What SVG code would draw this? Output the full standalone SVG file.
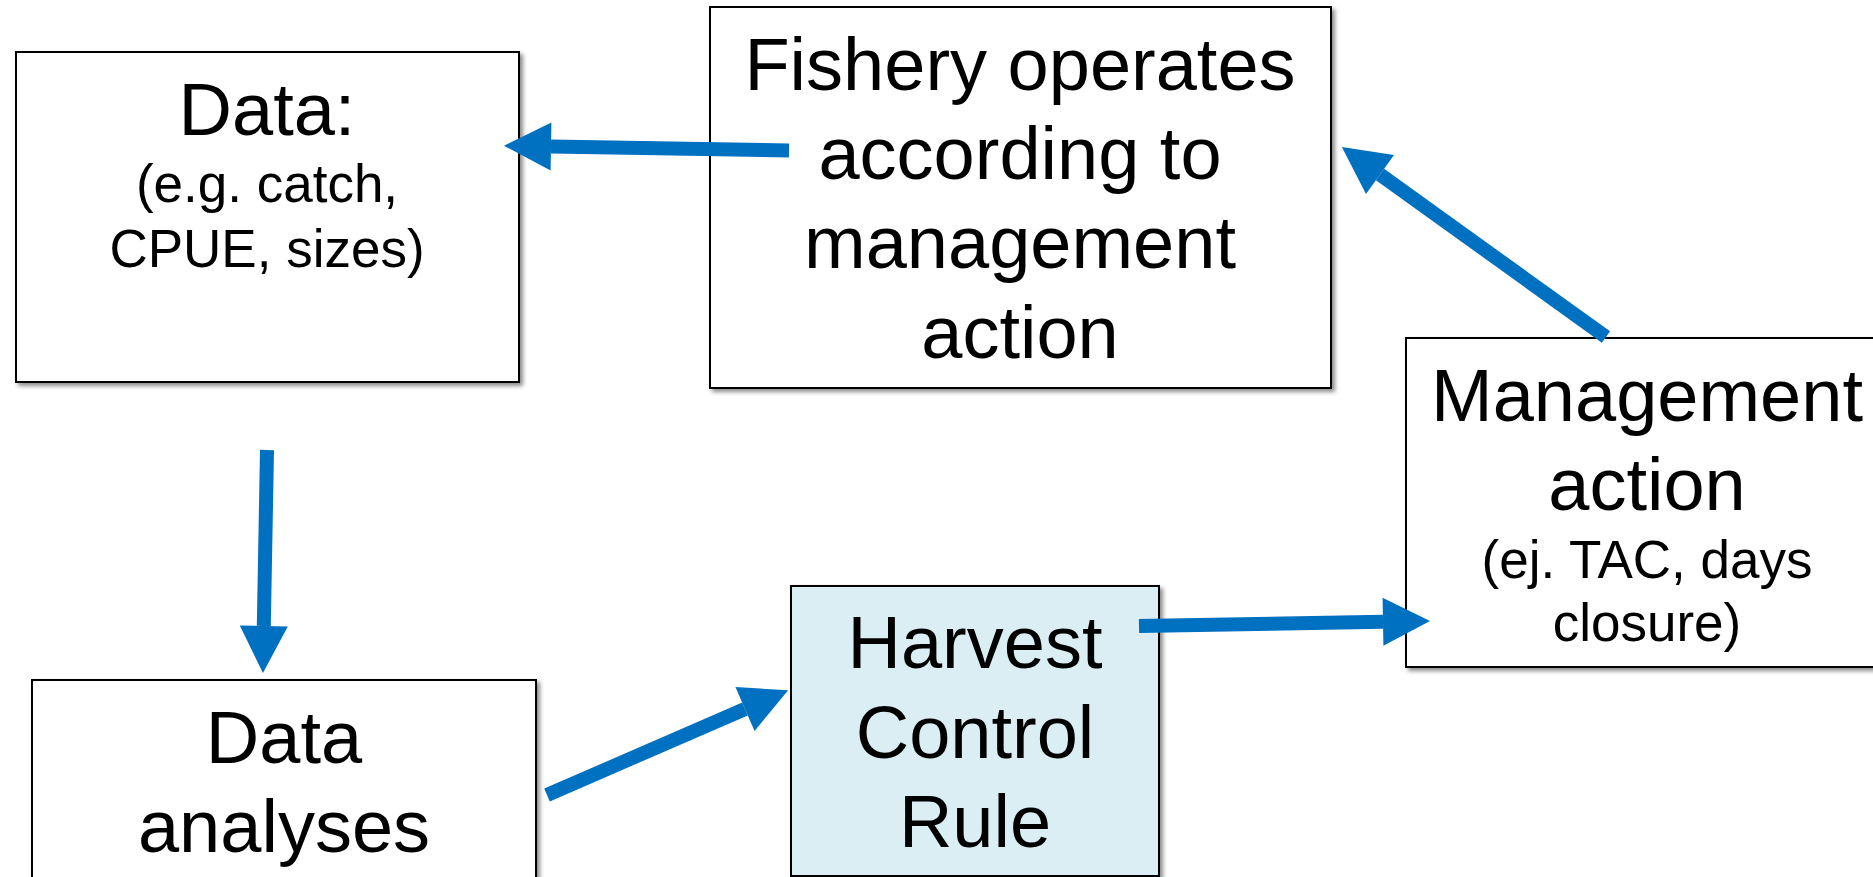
<svg xmlns="http://www.w3.org/2000/svg" width="1873" height="877" viewBox="0 0 1873 877">
<style>
.box{fill:#ffffff;stroke:#000000;stroke-width:2;filter:url(#sh)}
.hcr{fill:#DAEEF3}
.big{font-family:"Liberation Sans",Arial,sans-serif;font-size:74px;fill:#000;text-anchor:middle}
.small{font-family:"Liberation Sans",Arial,sans-serif;font-size:53px;fill:#000;text-anchor:middle}
.arr{stroke:#0070C0;stroke-width:14;fill:none;marker-end:url(#ah)}
</style>
<defs>
<filter id="sh" x="-5%" y="-5%" width="115%" height="115%">
<feDropShadow dx="3" dy="3" stdDeviation="2" flood-color="#000" flood-opacity="0.45"/>
</filter>
<marker id="ah" markerUnits="userSpaceOnUse" markerWidth="50" markerHeight="50" refX="0" refY="24" orient="auto" overflow="visible">
<path d="M0,0 L47,24 L0,48 z" fill="#0070C0"/>
</marker>
</defs>
<rect width="1873" height="877" fill="#ffffff"/>
<g id="data">
<rect class="box" x="16" y="52" width="503" height="330"/>
<text class="big" x="267" y="135">Data:</text>
<text class="small" x="267" y="202">(e.g. catch,</text>
<text class="small" x="267" y="267">CPUE, sizes)</text>
</g>
<g id="fishery">
<rect class="box" x="710" y="7" width="621" height="381"/>
<text class="big" x="1020" y="90">Fishery operates</text>
<text class="big" x="1020" y="179">according to</text>
<text class="big" x="1020" y="268">management</text>
<text class="big" x="1020" y="358">action</text>
</g>
<g id="management">
<rect class="box" x="1406" y="338" width="520" height="329"/>
<text class="big" x="1647" y="421">Management</text>
<text class="big" x="1647" y="510">action</text>
<text class="small" x="1647" y="578">(ej. TAC, days</text>
<text class="small" x="1647" y="641">closure)</text>
</g>
<g id="hcr">
<rect class="box hcr" x="791" y="586" width="368" height="290"/>
<text class="big" x="975" y="668">Harvest</text>
<text class="big" x="975" y="758">Control</text>
<text class="big" x="975" y="847">Rule</text>
</g>
<g id="analyses">
<rect class="box" x="32" y="680" width="504" height="240"/>
<text class="big" x="284" y="763">Data</text>
<text class="big" x="284" y="852">analyses</text>
</g>
<g id="connectors">
<line class="arr" x1="789" y1="150.5" x2="551" y2="146.5"/>
<line class="arr" x1="267" y1="450" x2="263.8" y2="626"/>
<line class="arr" x1="547" y1="795" x2="745" y2="709"/>
<line class="arr" x1="1139" y1="626" x2="1383" y2="621.8"/>
<line class="arr" x1="1606" y1="337" x2="1380" y2="174.5"/>
</g>
</svg>
